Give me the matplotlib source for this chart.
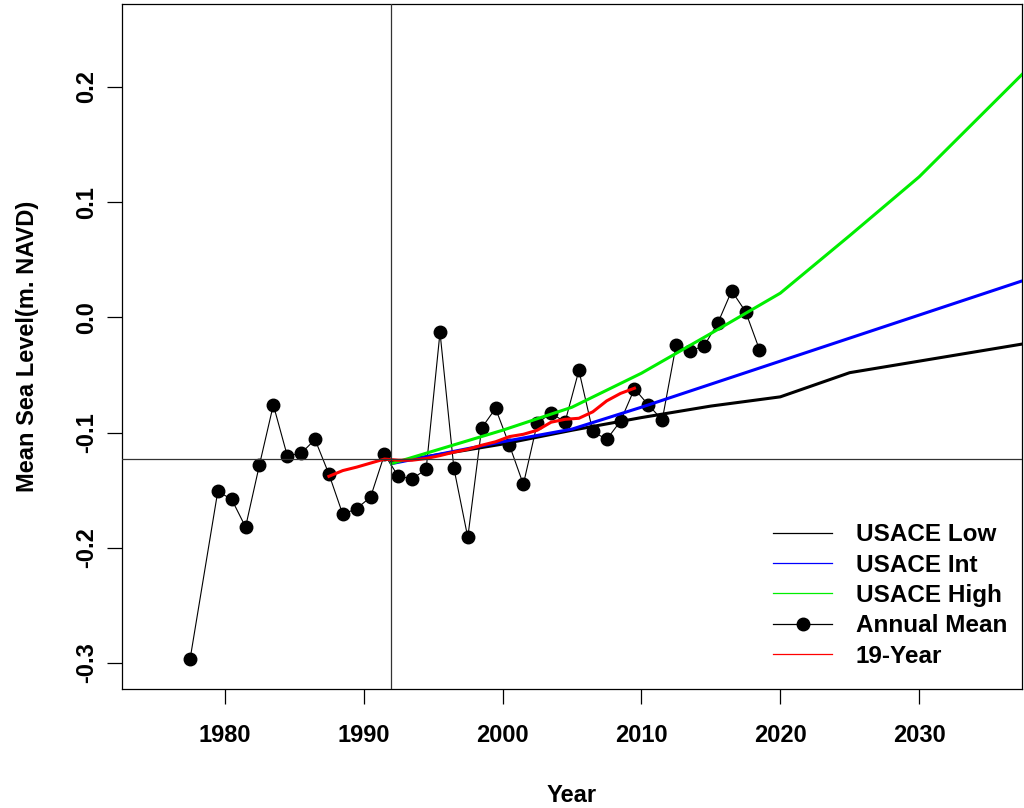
import matplotlib
matplotlib.use("Agg")
from matplotlib import pyplot as plt
from matplotlib.lines import Line2D

plt.rcParams['font.family'] = ['Liberation Sans', 'DejaVu Sans']
plt.rcParams['font.weight'] = 'bold'

# annual mean sea level (m NAVD), mid-year
mean_years = [1977.5, 1979.5, 1980.5, 1981.5, 1982.5, 1983.5, 1984.5, 1985.5,
              1986.5, 1987.5, 1988.5, 1989.5, 1990.5, 1991.5, 1992.5, 1993.5,
              1994.5, 1995.5, 1996.5, 1997.5, 1998.5, 1999.5, 2000.5, 2001.5,
              2002.5, 2003.5, 2004.5, 2005.5, 2006.5, 2007.5, 2008.5, 2009.5,
              2010.5, 2011.5, 2012.5, 2013.5, 2014.5, 2015.5, 2016.5, 2017.5,
              2018.5]
mean_vals = [-0.297, -0.151, -0.158, -0.182, -0.128, -0.076, -0.120, -0.118,
             -0.106, -0.136, -0.171, -0.166, -0.156, -0.119, -0.138, -0.140,
             -0.132, -0.013, -0.131, -0.191, -0.096, -0.079, -0.111, -0.145,
             -0.092, -0.083, -0.091, -0.046, -0.099, -0.106, -0.090, -0.062,
             -0.076, -0.089, -0.024, -0.029, -0.025, -0.005, 0.023, 0.005,
             -0.028]

# 19-year moving mean
ma_years = [1987.5, 1988.5, 1989.5, 1990.5, 1991.5, 1992.5, 1993.5, 1994.5,
            1995.5, 1996.5, 1997.5, 1998.5, 1999.5, 2000.5, 2001.5, 2002.5,
            2003.5, 2004.5, 2005.5, 2006.5, 2007.5, 2008.5, 2009.5]
ma_vals = [-0.138, -0.133, -0.130, -0.1265, -0.123, -0.124, -0.124, -0.1225,
           -0.120, -0.117, -0.1145, -0.111, -0.108, -0.1035, -0.1015, -0.098,
           -0.091, -0.0885, -0.0876, -0.082, -0.0725, -0.066, -0.0615]

# USACE sea level change curves
usace_years = [1992, 2000, 2005, 2010, 2015, 2020, 2025, 2030, 2035, 2040]
usace_low = [-0.126, -0.110, -0.098, -0.087, -0.077, -0.069, -0.048, -0.038, -0.028, -0.018]
usace_int = [-0.127, -0.108, -0.097, -0.078, -0.058, -0.038, -0.018, 0.002, 0.022, 0.042]
usace_high = [-0.127, -0.098, -0.078, -0.0485, -0.014, 0.021, 0.071, 0.122, 0.182, 0.242]

epoch_year = 1992
epoch_level = -0.123

fig = plt.figure(figsize=(10.24, 8.08), dpi=100)
ax = fig.add_axes([0.1191, 0.1473, 0.8789, 0.8477])

ax.plot(mean_years, mean_vals, color='black', lw=0.8, marker='o', ms=9,
        zorder=3)
ax.plot(usace_years, usace_low, color='black', lw=2.2, zorder=4)
ax.plot(usace_years, usace_int, color='blue', lw=2.2, zorder=4)
ax.plot(usace_years, usace_high, color='#00ee00', lw=2.2, zorder=4)
ax.plot(ma_years, ma_vals, color='red', lw=2.2, zorder=5)
ax.axvline(epoch_year, color='#333333', lw=0.9, zorder=6)
ax.axhline(epoch_level, color='#333333', lw=0.9, zorder=6)

ax.set_xlim(1972.6, 2037.4)
ax.set_ylim(-0.3226, 0.272)
ax.set_xticks([1980, 1990, 2000, 2010, 2020, 2030])
ax.set_yticks([-0.3, -0.2, -0.1, 0.0, 0.1, 0.2])
ax.set_yticklabels(['-0.3', '-0.2', '-0.1', '0.0', '0.1', '0.2'],
                   rotation=90, va='center')
ax.tick_params(direction='out', length=11, width=0.9, labelsize=17, pad=14)
ax.tick_params(axis='y', pad=6)
for s in ax.spines.values():
    s.set_linewidth(0.9)

ax.set_xlabel('Year', fontsize=17, fontweight='bold', labelpad=27)
ax.set_ylabel('Mean Sea Level(m. NAVD)', fontsize=17, fontweight='bold',
              labelpad=26)

handles = [Line2D([], [], color='black', lw=0.9),
           Line2D([], [], color='blue', lw=0.9),
           Line2D([], [], color='#00ee00', lw=0.9),
           Line2D([], [], color='black', lw=0.9, marker='o', ms=9),
           Line2D([], [], color='red', lw=0.9)]
labels = ['USACE Low', 'USACE Int', 'USACE High', 'Annual Mean', '19-Year']
ax.legend(handles, labels, loc='lower right', frameon=False, fontsize=17.5,
          handlelength=2.4, handletextpad=1.0, labelspacing=0.3,
          borderaxespad=0.2, bbox_to_anchor=(1.0, 0.01))

fig.savefig('out.png', dpi=100)
